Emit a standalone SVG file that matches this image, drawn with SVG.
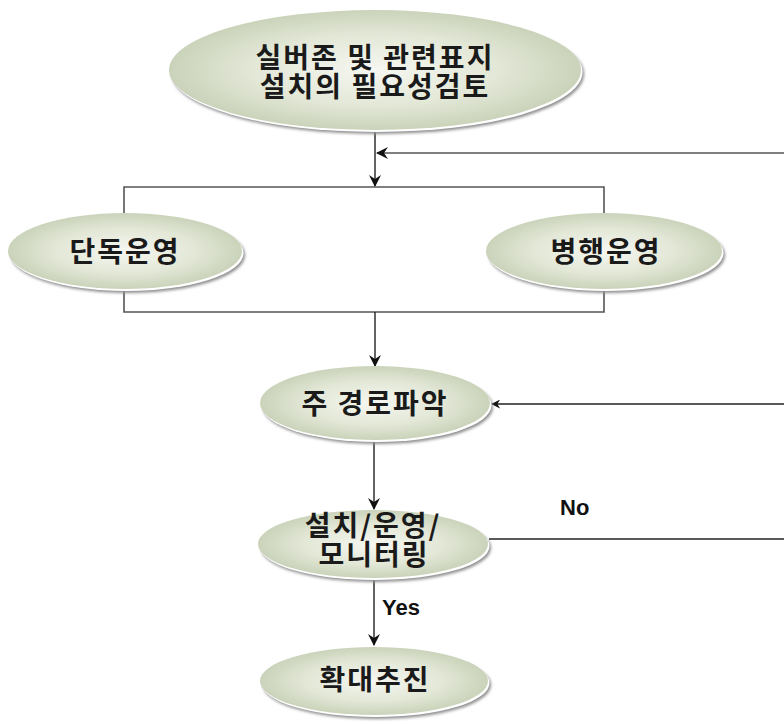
<svg xmlns="http://www.w3.org/2000/svg" width="784" height="724" viewBox="0 0 784 724">
  <defs>
    <radialGradient id="fillG" cx="50%" cy="50%" r="55%">
      <stop offset="0" stop-color="#f6f7f1"/>
      <stop offset="0.55" stop-color="#e2e7d6"/>
      <stop offset="1" stop-color="#c4ceb3"/>
    </radialGradient>
    <filter id="blur" x="-10%" y="-10%" width="120%" height="130%">
      <feGaussianBlur stdDeviation="1.6"/>
    </filter>
    <marker id="arr" viewBox="0 0 12 12" refX="11" refY="6" markerWidth="12" markerHeight="12" markerUnits="userSpaceOnUse" orient="auto">
      <path d="M0,0 L12,6 L0,12 L4,6 Z" fill="#111"/>
    </marker>
    <marker id="arrS" viewBox="0 0 12 12" refX="11" refY="6" markerWidth="9" markerHeight="9" markerUnits="userSpaceOnUse" orient="auto">
      <path d="M0,0 L12,6 L0,12 L4,6 Z" fill="#111"/>
    </marker>
  </defs>
  <style>
    .sh { fill: #8e8e8e; filter: url(#blur); }
    .rim { fill: #ffffff; }
    .body { fill: url(#fillG); }
    .lbl { font-family: "Noto Sans CJK KR", "Noto Sans", sans-serif; font-weight: 700; font-size: 28px; fill: #1a1a1a; text-anchor: middle; letter-spacing: 2px; }
    .yn { font-family: "Liberation Sans", Arial, sans-serif; font-weight: 700; font-size: 22px; fill: #111; }
    .ln { stroke: #555; stroke-width: 1.6; fill: none; }
    .lk { stroke: #222; stroke-width: 1.4; fill: none; }
  </style>
  <rect width="784" height="724" fill="#ffffff"/>

  <g id="connectors">
    <line class="lk" x1="375" y1="130" x2="375" y2="186" marker-end="url(#arr)"/>
    <line class="ln" x1="784" y1="153" x2="377" y2="153" marker-end="url(#arr)"/>
    <polyline class="ln" points="124,213 124,187 604,187 604,213"/>
    <polyline class="ln" points="124,290 124,312 604,312 604,290"/>
    <line class="lk" x1="375" y1="312" x2="375" y2="366" marker-end="url(#arr)"/>
    <line class="lk" x1="784" y1="404" x2="492" y2="404" marker-end="url(#arrS)"/>
    <line class="lk" x1="374" y1="440" x2="374" y2="509" marker-end="url(#arr)"/>
    <line class="lk" x1="489" y1="539" x2="784" y2="539"/>
    <line class="lk" x1="374" y1="578" x2="374" y2="645" marker-end="url(#arr)"/>
    <text class="yn" x="560" y="515">No</text>
    <text class="yn" x="382" y="615">Yes</text>
  </g>

  <g id="n1">
    <ellipse class="sh" cx="378" cy="74" rx="206" ry="60"/>
    <ellipse class="rim" cx="376.5" cy="72" rx="206" ry="60"/>
    <ellipse class="body" cx="375" cy="70" rx="206" ry="60"/>
    <text class="lbl" x="375" y="68">실버존 및 관련표지</text>
    <text class="lbl" x="375" y="97">설치의 필요성검토</text>
  </g>

  <g id="n2">
    <ellipse class="sh" cx="128" cy="255" rx="117" ry="38"/>
    <ellipse class="rim" cx="126.5" cy="253" rx="117" ry="38"/>
    <ellipse class="body" cx="125" cy="251" rx="117" ry="38"/>
    <text class="lbl" x="125" y="262">단독운영</text>
  </g>

  <g id="n3">
    <ellipse class="sh" cx="607" cy="255" rx="118" ry="38"/>
    <ellipse class="rim" cx="605.5" cy="253" rx="118" ry="38"/>
    <ellipse class="body" cx="604" cy="251" rx="118" ry="38"/>
    <text class="lbl" x="606" y="262">병행운영</text>
  </g>

  <g id="n4">
    <ellipse class="sh" cx="378" cy="407" rx="115" ry="37"/>
    <ellipse class="rim" cx="376.5" cy="405" rx="115" ry="37"/>
    <ellipse class="body" cx="375" cy="403" rx="115" ry="37"/>
    <text class="lbl" x="375" y="414">주 경로파악</text>
  </g>

  <g id="n5">
    <ellipse class="sh" cx="376" cy="548" rx="115" ry="34"/>
    <ellipse class="rim" cx="374.5" cy="546" rx="115" ry="34"/>
    <ellipse class="body" cx="373" cy="544" rx="115" ry="34"/>
    <text class="lbl" x="373" y="536">설치/운영/</text>
    <text class="lbl" x="374" y="565">모니터링</text>
  </g>

  <g id="n6">
    <ellipse class="sh" cx="377" cy="685" rx="114" ry="34"/>
    <ellipse class="rim" cx="375.5" cy="683" rx="114" ry="34"/>
    <ellipse class="body" cx="374" cy="681" rx="114" ry="34"/>
    <text class="lbl" x="375" y="690">확대추진</text>
  </g>
</svg>
